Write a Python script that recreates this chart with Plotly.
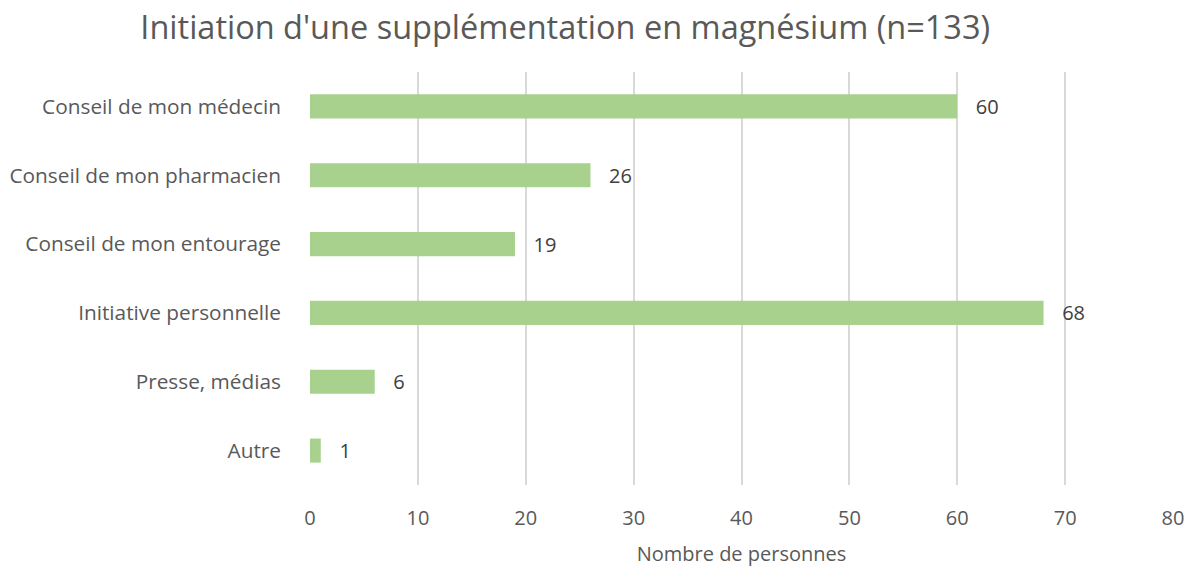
import plotly.graph_objects as go

categories = ["Conseil de mon médecin", "Conseil de mon pharmacien", "Conseil de mon entourage",
              "Initiative personnelle", "Presse, médias", "Autre"]
values = [60, 26, 19, 68, 6, 1]
x_ticks = [0, 10, 20, 30, 40, 50, 60, 70, 80]

FONT = "Open Sans"

fig = go.Figure(go.Bar(
    y=categories, x=values, orientation="h",
    marker=dict(color="#A9D18E", line=dict(width=0)),
    width=0.35,
    texttemplate="\u00a0\u00a0\u00a0%{x}", textposition="outside",
    constraintext="none",
    textfont=dict(family=FONT, size=20, color="#404040"),
    cliponaxis=False,
))

fig.update_layout(
    width=1195, height=572,
    paper_bgcolor="white", plot_bgcolor="white",
    margin=dict(l=310, r=22, t=72, b=87, autoexpand=False),
    title=dict(text="Initiation d'une supplémentation en magnésium (n=133)",
               x=0.473, xanchor="center", y=0.952, yanchor="middle",
               font=dict(family=FONT, size=32.5, color="#595959")),
    showlegend=False,
    xaxis=dict(range=[0, 80], tickvals=x_ticks, showgrid=True, gridcolor="#D9D9D9", gridwidth=1.5,
               zeroline=False, showline=False,
               tickfont=dict(family=FONT, size=20, color="#595959"),
               ticklabelstandoff=19,
               title=dict(text="Nombre de personnes", standoff=16,
                          font=dict(family=FONT, size=20, color="#595959"))),
    yaxis=dict(categoryorder="array", categoryarray=categories, autorange="reversed",
               showgrid=False, zeroline=False, showline=False,
               tickfont=dict(family=FONT, size=20.8, color="#595959"),
               ticklabelstandoff=28),
)

fig.write_html("out.html", config={"displayModeBar": False},
               post_script="document.body.style.margin='0';")
